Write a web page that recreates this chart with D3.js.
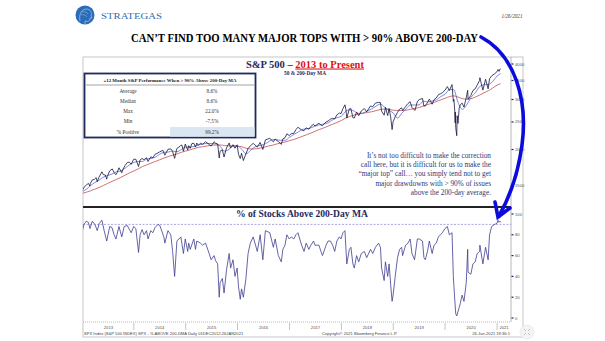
<!DOCTYPE html>
<html><head><meta charset="utf-8">
<script src="https://cdn.jsdelivr.net/npm/d3@7"></script>
<style>body{margin:0;background:#fff}svg{display:block}</style>
</head><body>
<svg id="c" width="605" height="341"></svg>
<script>
// ---- Data -------------------------------------------------------------
// S&P 500 closes [date, close]
const spx = [
["2012-12-31",1426],["2013-01-15",1472],["2013-01-31",1498],["2013-02-15",1520],["2013-02-25",1488],["2013-02-28",1515],
["2013-03-14",1563],["2013-03-28",1569],["2013-04-11",1593],["2013-04-18",1541],["2013-04-30",1597],["2013-05-21",1669],
["2013-05-31",1631],["2013-06-14",1626],["2013-06-24",1573],["2013-06-28",1606],["2013-07-15",1682],["2013-08-02",1709],
["2013-08-15",1661],["2013-08-27",1630],["2013-09-05",1655],["2013-09-18",1725],["2013-10-08",1656],["2013-10-15",1698],
["2013-10-31",1757],["2013-11-15",1798],["2013-11-29",1806],["2013-12-13",1775],["2013-12-31",1848],
["2014-01-15",1848],["2014-02-03",1742],["2014-02-14",1838],["2014-02-28",1859],["2014-03-14",1841],["2014-03-31",1872],
["2014-04-11",1815],["2014-04-30",1884],["2014-05-15",1870],["2014-05-30",1924],["2014-06-13",1937],["2014-06-30",1960],
["2014-07-24",1988],["2014-08-07",1910],["2014-08-29",2003],["2014-09-18",2011],["2014-09-30",1972],["2014-10-15",1862],
["2014-10-31",2018],["2014-11-14",2039],["2014-11-28",2068],["2014-12-05",2075],["2014-12-16",1973],["2014-12-29",2090],
["2015-01-15",1992],["2015-01-22",2063],["2015-02-02",2020],["2015-02-13",2097],["2015-02-27",2105],["2015-03-11",2040],
["2015-03-20",2108],["2015-03-31",2068],["2015-04-15",2106],["2015-04-30",2086],["2015-05-21",2131],["2015-06-15",2084],
["2015-06-29",2057],["2015-07-20",2129],["2015-07-31",2104],["2015-08-14",2092],["2015-08-25",1867],["2015-08-31",1972],
["2015-09-16",1995],["2015-09-28",1882],["2015-10-15",2024],["2015-11-03",2109],["2015-11-13",2023],["2015-11-30",2080],
["2015-12-14",2021],["2015-12-29",2078],
["2016-01-08",1922],["2016-01-20",1859],["2016-01-29",1940],["2016-02-11",1829],["2016-02-29",1932],["2016-03-15",2016],
["2016-03-31",2060],["2016-04-20",2102],["2016-05-19",2040],["2016-06-08",2119],["2016-06-27",2001],["2016-07-15",2162],
["2016-08-15",2190],["2016-09-09",2128],["2016-09-22",2177],["2016-10-14",2133],["2016-11-04",2085],["2016-11-15",2180],
["2016-11-30",2199],["2016-12-13",2271],["2016-12-30",2239],
["2017-01-13",2275],["2017-01-31",2279],["2017-02-15",2350],["2017-03-01",2396],["2017-03-27",2342],["2017-04-13",2329],
["2017-04-28",2384],["2017-05-17",2357],["2017-05-31",2412],["2017-06-19",2454],["2017-06-29",2419],["2017-07-27",2475],
["2017-08-10",2438],["2017-08-21",2428],["2017-09-15",2500],["2017-09-29",2519],["2017-10-16",2557],["2017-10-31",2575],
["2017-11-15",2564],["2017-11-30",2648],["2017-12-18",2690],["2017-12-29",2674],
["2018-01-12",2786],["2018-01-26",2873],["2018-02-02",2762],["2018-02-08",2581],["2018-02-26",2780],["2018-03-09",2786],
["2018-03-23",2588],["2018-04-02",2582],["2018-04-18",2708],["2018-05-03",2630],["2018-05-21",2733],["2018-06-12",2787],
["2018-06-28",2716],["2018-07-25",2846],["2018-08-10",2833],["2018-08-29",2914],["2018-09-20",2931],["2018-10-03",2925],
["2018-10-11",2728],["2018-10-29",2641],["2018-11-07",2814],["2018-11-23",2633],["2018-12-03",2790],["2018-12-14",2600],
["2018-12-24",2351],["2018-12-31",2507],
["2019-01-15",2610],["2019-01-31",2704],["2019-02-15",2775],["2019-03-01",2804],["2019-03-08",2743],["2019-03-29",2834],
["2019-04-15",2905],["2019-04-30",2946],["2019-05-13",2812],["2019-05-31",2752],["2019-06-03",2744],["2019-06-20",2954],
["2019-07-03",2996],["2019-07-26",3026],["2019-08-05",2844],["2019-08-15",2848],["2019-08-30",2926],["2019-09-12",3009],
["2019-10-02",2888],["2019-10-15",2996],["2019-10-31",3038],["2019-11-15",3120],["2019-11-29",3141],["2019-12-13",3169],
["2019-12-31",3231],
["2020-01-17",3330],["2020-01-31",3226],["2020-02-19",3386],["2020-02-28",2954],["2020-03-03",3003],["2020-03-09",2747],
["2020-03-12",2481],["2020-03-13",2711],["2020-03-16",2386],["2020-03-23",2237],["2020-03-26",2630],["2020-04-01",2471],
["2020-04-09",2790],["2020-04-17",2875],["2020-04-30",2912],["2020-05-13",2820],["2020-05-29",3044],["2020-06-08",3232],
["2020-06-11",3002],["2020-06-30",3100],["2020-07-15",3227],["2020-07-31",3271],["2020-08-14",3373],["2020-08-31",3500],
["2020-09-02",3580],["2020-09-23",3237],["2020-10-12",3535],["2020-10-30",3270],["2020-11-09",3551],["2020-11-24",3635],
["2020-12-15",3695],["2020-12-31",3756],
["2021-01-08",3825],["2021-01-15",3768],["2021-01-22",3841],["2021-01-26",3849]
];

// Moving averages [date, 50-day, 200-day]
const movingAvg = [
["2013-01-01",1420,1400],["2013-02-01",1450,1415],["2013-03-01",1490,1430],["2013-04-01",1530,1450],["2013-05-01",1560,1470],
["2013-06-01",1600,1495],["2013-07-01",1620,1520],["2013-08-01",1640,1545],["2013-09-01",1670,1570],["2013-10-01",1680,1595],
["2013-11-01",1720,1625],["2013-12-01",1765,1655],
["2014-01-01",1800,1680],["2014-02-01",1815,1710],["2014-03-01",1815,1740],["2014-04-01",1850,1765],["2014-05-01",1860,1790],
["2014-06-01",1880,1815],["2014-07-01",1925,1840],["2014-08-01",1955,1865],["2014-09-01",1960,1890],["2014-10-01",1975,1910],
["2014-11-01",1965,1930],["2014-12-01",2000,1955],
["2015-01-01",2040,1975],["2015-02-01",2040,1995],["2015-03-01",2050,2015],["2015-04-01",2075,2035],["2015-05-01",2090,2045],
["2015-06-01",2100,2060],["2015-07-01",2100,2070],["2015-08-01",2095,2075],["2015-09-01",2050,2075],["2015-10-01",1975,2065],
["2015-11-01",2000,2060],["2015-12-01",2060,2060],
["2016-01-01",2055,2055],["2016-02-01",2000,2045],["2016-03-01",1930,2020],["2016-04-01",1985,2010],["2016-05-01",2040,2010],
["2016-06-01",2065,2020],["2016-07-01",2080,2035],["2016-08-01",2120,2055],["2016-09-01",2165,2070],["2016-10-01",2165,2090],
["2016-11-01",2155,2110],["2016-12-01",2155,2125],
["2017-01-01",2210,2150],["2017-02-01",2260,2170],["2017-03-01",2300,2195],["2017-04-01",2355,2225],["2017-05-01",2365,2255],
["2017-06-01",2385,2285],["2017-07-01",2420,2320],["2017-08-01",2445,2355],["2017-09-01",2460,2385],["2017-10-01",2485,2420],
["2017-11-01",2545,2455],["2017-12-01",2590,2490],
["2018-01-01",2620,2530],["2018-02-01",2730,2580],["2018-03-01",2760,2615],["2018-04-01",2730,2645],["2018-05-01",2680,2665],
["2018-06-01",2690,2680],["2018-07-01",2730,2700],["2018-08-01",2780,2715],["2018-09-01",2840,2740],["2018-10-01",2890,2765],
["2018-11-01",2820,2775],["2018-12-01",2750,2770],
["2019-01-01",2690,2750],["2019-02-01",2580,2745],["2019-03-01",2680,2745],["2019-04-01",2780,2750],["2019-05-01",2870,2770],
["2019-06-01",2870,2790],["2019-07-01",2870,2810],["2019-08-01",2960,2845],["2019-09-01",2940,2880],["2019-10-01",2960,2910],
["2019-11-01",2990,2950],["2019-12-01",3070,2990],
["2020-01-01",3130,3030],["2020-02-01",3250,3070],["2020-03-01",3250,3090],["2020-04-01",2930,3060],["2020-05-01",2770,3020],
["2020-06-01",2870,3010],["2020-07-01",3050,3020],["2020-08-01",3170,3060],["2020-09-01",3330,3110],["2020-10-01",3380,3170],
["2020-11-01",3390,3220],["2020-12-01",3470,3290],
["2021-01-01",3630,3370],["2021-01-26",3700,3410]
];

// % of S&P 500 members above their 200-day MA [date, pct]
const breadth = [
["2012-12-31",82],["2013-01-15",90],["2013-01-31",93],["2013-02-15",92],["2013-02-26",86],["2013-03-14",93],["2013-04-02",90],
["2013-04-18",84],["2013-05-03",91],["2013-05-21",94],["2013-06-06",84],["2013-06-24",74],["2013-07-15",88],["2013-07-31",87],
["2013-08-15",80],["2013-08-28",76],["2013-09-18",88],["2013-10-08",78],["2013-10-25",88],["2013-11-15",89],["2013-12-13",82],
["2013-12-31",88],
["2014-01-15",86],["2014-02-03",63],["2014-02-14",80],["2014-02-28",85],["2014-03-14",80],["2014-03-31",84],["2014-04-11",76],
["2014-04-30",84],["2014-05-15",82],["2014-05-30",87],["2014-06-20",90],["2014-07-03",89],["2014-07-31",78],["2014-08-07",72],
["2014-08-29",84],["2014-09-18",80],["2014-10-01",64],["2014-10-15",40],["2014-10-31",74],["2014-11-28",78],["2014-12-16",62],
["2014-12-29",76],
["2015-01-15",64],["2015-01-22",72],["2015-02-02",66],["2015-02-27",76],["2015-03-11",66],["2015-03-20",74],["2015-04-15",72],
["2015-04-30",70],["2015-05-21",72],["2015-06-15",62],["2015-06-29",56],["2015-07-20",60],["2015-07-31",55],["2015-08-14",52],
["2015-08-25",20],["2015-08-31",34],["2015-09-16",38],["2015-09-28",24],["2015-10-15",46],["2015-11-03",62],["2015-11-13",48],
["2015-11-30",56],["2015-12-14",40],["2015-12-29",48],
["2016-01-08",30],["2016-01-20",18],["2016-01-29",28],["2016-02-11",20],["2016-02-29",38],["2016-03-15",62],["2016-03-31",72],
["2016-04-20",78],["2016-05-19",64],["2016-06-08",80],["2016-06-27",56],["2016-07-15",84],["2016-08-15",82],["2016-09-09",68],
["2016-09-22",76],["2016-10-14",60],["2016-11-04",54],["2016-11-15",66],["2016-11-30",70],["2016-12-13",80],["2016-12-30",76],
["2017-01-13",78],["2017-01-31",76],["2017-02-15",80],["2017-03-01",82],["2017-03-27",70],["2017-04-13",64],["2017-04-28",72],
["2017-05-17",66],["2017-05-31",70],["2017-06-19",74],["2017-06-29",70],["2017-07-27",70],["2017-08-10",64],["2017-08-21",60],
["2017-09-15",70],["2017-09-29",74],["2017-10-16",74],["2017-10-31",70],["2017-11-15",64],["2017-11-30",74],["2017-12-18",78],
["2017-12-29",76],
["2018-01-12",82],["2018-01-26",84],["2018-02-08",52],["2018-02-26",66],["2018-03-09",68],["2018-03-23",52],["2018-04-02",48],
["2018-04-18",60],["2018-05-03",54],["2018-05-21",62],["2018-06-12",64],["2018-06-28",58],["2018-07-25",66],["2018-08-10",62],
["2018-08-29",68],["2018-09-20",72],["2018-10-03",68],["2018-10-11",48],["2018-10-29",36],["2018-11-07",54],["2018-11-23",40],
["2018-12-03",52],["2018-12-14",32],["2018-12-24",16],["2018-12-31",22],
["2019-01-15",40],["2019-01-31",58],["2019-02-15",66],["2019-03-01",68],["2019-03-08",60],["2019-03-29",70],["2019-04-15",72],
["2019-04-30",76],["2019-05-13",62],["2019-05-31",56],["2019-06-20",76],["2019-07-03",76],["2019-07-26",74],["2019-08-05",58],
["2019-08-15",56],["2019-08-30",64],["2019-09-12",74],["2019-10-02",62],["2019-10-15",70],["2019-10-31",72],["2019-11-15",78],
["2019-11-29",80],["2019-12-13",82],["2019-12-31",86],
["2020-01-17",88],["2020-01-31",80],["2020-02-19",82],["2020-02-28",40],["2020-03-09",18],["2020-03-16",4],["2020-03-23",2],
["2020-04-09",10],["2020-04-17",14],["2020-04-30",22],["2020-05-13",16],["2020-05-29",34],["2020-06-08",66],["2020-06-11",44],
["2020-06-30",42],["2020-07-15",52],["2020-07-31",54],["2020-08-14",62],["2020-08-31",64],["2020-09-02",70],["2020-09-23",52],
["2020-10-12",68],["2020-10-30",56],["2020-11-09",80],["2020-11-24",88],["2020-12-15",90],["2020-12-31",91],
["2021-01-08",94],["2021-01-15",92],["2021-01-22",93],["2021-01-26",92]
];

const years = [2013,2014,2015,2016,2017,2018,2019,2020,2021];
const spxTicks = [4000,3500,3000,2500,2000,1500];
const pctTicks = [100,80,60,40,20,0];
const threshold = 90;

const statLabels = ["Average","Median","Max","Min","% Positive"];
const statValues = ["8.6%","8.6%","22.0%","-7.5%","99.2%"];

const noteLines = [
  "It\u2019s not too difficult to make the correction",
  "call here, but it is difficult for us to make the",
  "\u201cmajor top\u201d call\u2026 you simply tend not to get",
  "major drawdowns with > 90% of issues",
  "above the 200-day average."
];

// ---- Layout -----------------------------------------------------------
const svg = d3.select("#c");
const SERIF = "'Liberation Serif','DejaVu Serif',serif";
const SANS = "'Liberation Sans','DejaVu Sans',sans-serif";
const NAVY = "#1f2a5c";
const left = 83, right = 511, frameRight = 523;
const upTop = 57, upBot = 207, loTop = 207, loBot = 322, frameBot = 337;

const parse = d3.timeParse("%Y-%m-%d");
const x = d3.scaleTime()
  .domain([parse("2013-01-08"), parse("2021-04-09")])
  .range([left, right]);
const ySpx = d3.scaleLog().domain([1500, 4000]).range([185, 64]);
const yPct = d3.scaleLinear().domain([0, 100]).range([318, 214]);

// clip regions
const defs = svg.append("defs");
defs.append("clipPath").attr("id","clipUp").append("rect")
  .attr("x",left).attr("y",upTop).attr("width",right-left).attr("height",upBot-upTop);
defs.append("clipPath").attr("id","clipLo").append("rect")
  .attr("x",left).attr("y",loTop).attr("width",right-left).attr("height",loBot-loTop);

// ---- Header -----------------------------------------------------------
const logo = svg.append("g");
logo.append("circle").attr("cx",85).attr("cy",15).attr("r",9.5).attr("fill","#2b6cb8");
logo.append("path")
  .attr("d","M80,21 C79,16 80,10 86,9 C91,9 92,13 91,16 L92,18 L90,18 C90,21 88,22 85,21 L85,24")
  .attr("fill","none").attr("stroke","#8fb6e3").attr("stroke-width",0.9);
logo.append("path").attr("d","M82,12 C84,11 87,12 88,14 M81,15 C83,14 86,15 87,17")
  .attr("fill","none").attr("stroke","#8fb6e3").attr("stroke-width",0.6);
svg.append("text").attr("x",101).attr("y",18.5)
  .attr("font-family",SERIF).attr("font-size",8.6).attr("fill","#2f6cb3")
  .attr("textLength",61).attr("lengthAdjust","spacingAndGlyphs")
  .text("STRATEGAS");

svg.append("text").attr("x",512).attr("y",17.5).attr("text-anchor","middle")
  .attr("font-family",SERIF).attr("font-style","italic").attr("font-size",5.2).attr("fill","#333")
  .text("1/26/2021");

svg.append("text").attr("x",131).attr("y",41.5)
  .attr("font-family",SERIF).attr("font-weight","bold").attr("font-size",11.5).attr("fill","#000")
  .attr("textLength",347).attr("lengthAdjust","spacingAndGlyphs")
  .text("CAN\u2019T FIND TOO MANY MAJOR TOPS WITH > 90% ABOVE 200-DAY");

// ---- Frame ------------------------------------------------------------
const frame = svg.append("g").attr("fill","none");
frame.append("rect").attr("x",left).attr("y",upTop).attr("width",frameRight-left).attr("height",frameBot-upTop)
  .attr("stroke","#b8b8b8").attr("stroke-width",0.8);
frame.append("line").attr("x1",right).attr("x2",right).attr("y1",upTop).attr("y2",loBot)
  .attr("stroke","#9a9a9a").attr("stroke-width",0.7);
frame.append("line").attr("x1",left).attr("x2",right).attr("y1",loBot).attr("y2",loBot)
  .attr("stroke","#8888aa").attr("stroke-width",0.6).attr("stroke-dasharray","1,1");

// ---- Upper panel: S&P 500 with MAs ------------------------------------
const spxData = spx.map(d => ({date: parse(d[0]), v: d[1]}));
const maData = movingAvg.map(d => ({date: parse(d[0]), m50: d[1], m200: d[2]}));

const up = svg.append("g").attr("clip-path","url(#clipUp)").attr("fill","none");
up.append("path").datum(maData)
  .attr("d", d3.line().x(d => x(d.date)).y(d => ySpx(d.m200)).curve(d3.curveMonotoneX))
  .attr("stroke","#c0504d").attr("stroke-width",0.8);
up.append("path").datum(maData)
  .attr("d", d3.line().x(d => x(d.date)).y(d => ySpx(d.m50)).curve(d3.curveMonotoneX))
  .attr("stroke","#4356d6").attr("stroke-width",0.7);
up.append("path").datum(spxData)
  .attr("d", d3.line().x(d => x(d.date)).y(d => ySpx(d.v)))
  .attr("stroke","#16163c").attr("stroke-width",0.8);

// right axis (upper)
const axU = svg.append("g");
spxTicks.forEach(t => {
  axU.append("rect").attr("x",right+0.5).attr("y",ySpx(t)-0.6).attr("width",2).attr("height",1.2).attr("fill","#1a237e");
  axU.append("text").attr("x",right+4).attr("y",ySpx(t)+1.5)
    .attr("font-family",SANS).attr("font-size",4.2).attr("fill","#555").text(t);
});

// panel titles
const t1 = svg.append("text").attr("x",246).attr("y",67.5)
  .attr("font-family",SERIF).attr("font-weight","bold").attr("font-size",10.5);
t1.append("tspan").attr("fill",NAVY).text("S&P 500 \u2013 ");
t1.append("tspan").attr("fill","#e01010").attr("text-decoration","underline").text("2013 to Present");
svg.append("text").attr("x",305).attr("y",74.5).attr("text-anchor","middle")
  .attr("font-family",SERIF).attr("font-weight","bold").attr("font-size",5.4).attr("fill",NAVY)
  .text("50 & 200-Day MA");

// statistics table
const tb = svg.append("g");
tb.append("rect").attr("x",84.5).attr("y",73.5).attr("width",171).attr("height",64)
  .attr("fill","#fff").attr("stroke",NAVY).attr("stroke-width",1.8);
tb.append("rect").attr("x",170).attr("y",127).attr("width",84.5).attr("height",9.6).attr("fill","#dbe6f3");
tb.append("text").attr("x",170).attr("y",81.5).attr("text-anchor","middle")
  .attr("font-family",SERIF).attr("font-weight","bold").attr("font-size",4.9).attr("fill","#222")
  .text("+12 Month S&P Performance When > 90% Above 200-Day MA");
tb.append("line").attr("x1",86).attr("x2",254).attr("y1",85).attr("y2",85).attr("stroke","#444").attr("stroke-width",0.5);
const rowY = d3.scalePoint().domain(statLabels).range([92.5, 133.5]);
statLabels.forEach((lab, i) => {
  tb.append("text").attr("x",128).attr("y",rowY(lab)).attr("text-anchor","middle")
    .attr("font-family",SERIF).attr("font-size",5.2).attr("fill","#333").text(lab);
  tb.append("text").attr("x",212).attr("y",rowY(lab)).attr("text-anchor","middle")
    .attr("font-family",SERIF).attr("font-size",5.2).attr("fill","#333").text(statValues[i]);
});

// commentary
const note = svg.append("g").attr("font-family",SERIF).attr("font-size",7.3).attr("fill","#2b3a78");
noteLines.forEach((s, i) => {
  note.append("text").attr("x",491).attr("y",157.5 + i*9.4).attr("text-anchor","end").text(s);
});

// separator between panels
svg.append("line").attr("x1",left).attr("x2",right).attr("y1",loTop).attr("y2",loTop)
  .attr("stroke","#222").attr("stroke-width",1.8);

// ---- Lower panel: % above 200-day -------------------------------------
const brData = breadth.map(d => ({date: parse(d[0]), v: d[1]}));
svg.append("line").attr("x1",left).attr("x2",right).attr("y1",yPct(threshold)).attr("y2",yPct(threshold))
  .attr("stroke","#6a6ad0").attr("stroke-width",0.6).attr("stroke-dasharray","2,1.5");
svg.append("g").attr("clip-path","url(#clipLo)").append("path").datum(brData)
  .attr("d", d3.line().x(d => x(d.date)).y(d => yPct(d.v)))
  .attr("fill","none").attr("stroke","#3d3d8f").attr("stroke-width",0.8);

svg.append("text").attr("x",302).attr("y",217)
  .attr("text-anchor","middle")
  .attr("font-family",SERIF).attr("font-weight","bold").attr("font-size",9.6).attr("fill",NAVY)
  .text("% of Stocks Above 200-Day MA");

const axL = svg.append("g");
pctTicks.forEach(t => {
  axL.append("rect").attr("x",right+0.5).attr("y",yPct(t)-0.6).attr("width",2).attr("height",1.2).attr("fill","#1a237e");
  axL.append("text").attr("x",right+4).attr("y",yPct(t)+1.5)
    .attr("font-family",SANS).attr("font-size",4.2).attr("fill","#555").text(t);
});

// ---- Bottom time axis -------------------------------------------------
const [d0, d1] = x.domain();
const axB = svg.append("g").attr("font-family",SANS).attr("font-size",4.2).attr("fill","#555");
years.forEach(yr => {
  const a = new Date(yr,0,1), b = new Date(yr+1,0,1);
  const xa = x(a < d0 ? d0 : a), xb = x(b > d1 ? d1 : b);
  axB.append("text").attr("x",(xa+xb)/2).attr("y",329).attr("text-anchor","middle").text(yr);
  if (yr > 2013) {
    axB.append("line").attr("x1",x(a)).attr("x2",x(a)).attr("y1",323).attr("y2",330)
      .attr("stroke","#888").attr("stroke-width",0.5);
  }
});

const foot = svg.append("g").attr("font-family",SANS).attr("font-size",4.1).attr("fill","#444");
foot.append("text").attr("x",84).attr("y",334.5)
  .text("SPX Index (S&P 500 INDEX) SPX - % ABOVE 200-DMA  Daily 01DEC2012-26JAN2021");
foot.append("text").attr("x",322).attr("y",334.5).text("Copyright\u00a9 2021 Bloomberg Finance L.P.");
foot.append("text").attr("x",510).attr("y",334.5).attr("text-anchor","end").text("26-Jan-2021 19:36:1");

// small corner badge
svg.append("circle").attr("cx",527).attr("cy",332).attr("r",7).attr("fill","#f4f4f4").attr("stroke","#e2e2e2").attr("stroke-width",0.6);
svg.append("path").attr("d","M524,329 l2,2 M530,329 l-2,2 M524,335 l2,-2 M530,335 l-2,-2")
  .attr("stroke","#aaa").attr("stroke-width",0.7);

// ---- Callout arrow ----------------------------------------------------
const arrow = svg.append("g").attr("fill","none").attr("stroke","#0b0bdc").attr("stroke-linecap","round");
arrow.append("path").attr("d","M481,37 C515,55 528,100 522,145 C518,175 508,200 499,216")
  .attr("stroke-width",3.6);
arrow.append("path").attr("d","M495,202 L498,217 L510,208").attr("stroke-width",3.6).attr("stroke-linejoin","miter");
</script></body></html>
